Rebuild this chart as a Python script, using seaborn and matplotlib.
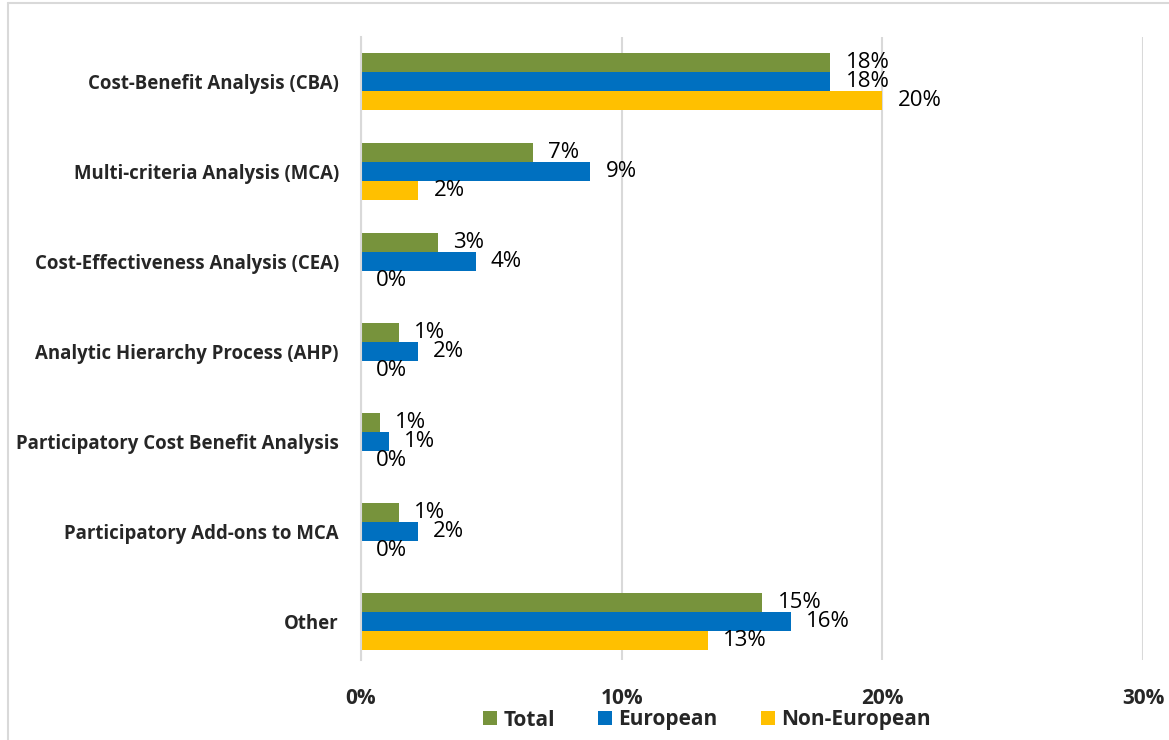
import matplotlib
matplotlib.use("Agg")
import matplotlib.pyplot as plt
import seaborn as sns
import pandas as pd
from matplotlib.patches import Patch
from matplotlib.lines import Line2D

categories = [
    "Cost-Benefit Analysis (CBA)",
    "Multi-criteria Analysis (MCA)",
    "Cost-Effectiveness Analysis (CEA)",
    "Analytic Hierarchy Process (AHP)",
    "Participatory Cost Benefit Analysis",
    "Participatory Add-ons to MCA",
    "Other",
]
series = ["Total", "European", "Non-European"]
total = [18.0, 6.6, 2.95, 1.46, 0.73, 1.46, 15.4]
european = [18.0, 8.8, 4.4, 2.18, 1.07, 2.18, 16.5]
non_european = [20.0, 2.2, 0.0, 0.0, 0.0, 0.0, 13.3]
xticks = [0, 10, 20, 30]
xtick_labels = ["0%", "10%", "20%", "30%"]
colors = ["#77933C", "#0070C0", "#FFC000"]

rows = []
for s, vals in zip(series, [total, european, non_european]):
    for c, v in zip(categories, vals):
        rows.append({"Category": c, "Series": s, "Value": v})
df = pd.DataFrame(rows)

sns.set_style("white")
plt.rcParams["font.family"] = ["Open Sans", "DejaVu Sans"]

fig = plt.figure(figsize=(11.69, 7.40), dpi=100)
ax = fig.add_axes([361/1169, 1 - 660/740, (1143-361)/1169, (660-37)/740])

sns.barplot(data=df, y="Category", x="Value", hue="Series", order=categories,
            hue_order=series, palette=colors, orient="h", width=0.633, gap=0,
            ax=ax, legend=False, saturation=1, edgecolor="none")

for cont in ax.containers:
    labels = [f"{round(b.get_width()):.0f}%" for b in cont]
    ax.bar_label(cont, labels=labels, padding=11, fontsize=16, color="#000000")

ax.set_xlim(0, 30)
ax.set_ylim(6.43, -0.5)
ax.set_xticks(xticks)
ax.set_xticklabels(xtick_labels, fontsize=15, fontweight="bold")
ax.tick_params(axis="x", length=0, pad=20)
ax.tick_params(axis="y", length=0, pad=16)
for lab in ax.get_yticklabels():
    lab.set_fontsize(13.4)
    lab.set_fontweight("bold")
ax.set_xlabel("")
ax.set_ylabel("")
ax.grid(axis="x", color="#D9D9D9", linewidth=1.5)
ax.set_axisbelow(True)
for sp in ["top", "right", "bottom"]:
    ax.spines[sp].set_visible(False)
ax.spines["left"].set_color("#D9D9D9")
ax.spines["left"].set_linewidth(1.5)

handles = [Patch(facecolor=c, edgecolor="none") for c in colors]
leg = fig.legend(handles, series, loc="center", bbox_to_anchor=(707/1169, 1 - 720/740),
                 ncol=3, frameon=False, handlelength=0.65, handleheight=0.65,
                 handletextpad=0.3, columnspacing=2.1,
                 prop={"size": 15, "weight": "bold"})

# outer chart frame (top and left visible)
fig.add_artist(Line2D([8/1169, 1.0], [1 - 3/740, 1 - 3/740], transform=fig.transFigure,
                      color="#D9D9D9", linewidth=1.5))
fig.add_artist(Line2D([8/1169, 8/1169], [0.0, 1 - 3/740], transform=fig.transFigure,
                      color="#D9D9D9", linewidth=1.5))

fig.savefig("out.png", dpi=100, facecolor="white")
